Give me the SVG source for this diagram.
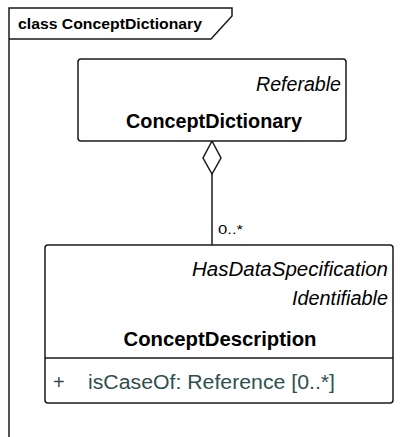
<svg xmlns="http://www.w3.org/2000/svg" width="420" height="437" viewBox="0 0 420 437">
<style>
text{font-family:"Liberation Sans",Arial,sans-serif;fill:#000}
.b{font-weight:bold}
.i{font-style:italic}
.box{fill:#fff;stroke:#1a1a1a;stroke-width:1.5}
.ln{fill:none;stroke:#1a1a1a;stroke-width:1.5}
.attr{fill:#2f4f4f}
</style>
<rect width="420" height="437" fill="#fff"/>
<g id="frame">
<path class="ln" d="M9,437 V8 H232 V16 L211,39 H9"/>
<text class="b" x="18" y="29" font-size="15" textLength="184" lengthAdjust="spacingAndGlyphs">class ConceptDictionary</text>
</g>
<g id="connectors">
<line class="ln" x1="212" y1="174" x2="212" y2="245"/>
<path class="ln" d="M212,141 L221,158 L212,174 L203,158 Z" fill="#fff"/>
<text x="218" y="234" font-size="13" textLength="25" lengthAdjust="spacingAndGlyphs">0..*</text>
</g>
<g id="ConceptDictionary">
<rect class="box" x="78" y="59" width="268" height="82" rx="3"/>
<text class="i" x="341" y="91" font-size="20" text-anchor="end" textLength="85" lengthAdjust="spacingAndGlyphs">Referable</text>
<text class="b" x="214" y="128" font-size="20" text-anchor="middle" textLength="176" lengthAdjust="spacingAndGlyphs">ConceptDictionary</text>
</g>
<g id="ConceptDescription">
<rect class="box" x="45" y="245" width="348" height="158" rx="3"/>
<line class="ln" x1="45" y1="358" x2="393" y2="358"/>
<text class="i" x="388" y="276" font-size="20" text-anchor="end" textLength="196" lengthAdjust="spacingAndGlyphs">HasDataSpecification</text>
<text class="i" x="388" y="305" font-size="20" text-anchor="end" textLength="96" lengthAdjust="spacingAndGlyphs">Identifiable</text>
<text class="b" x="220" y="346" font-size="20" text-anchor="middle" textLength="193" lengthAdjust="spacingAndGlyphs">ConceptDescription</text>
<text class="attr" x="53" y="389" font-size="20">+</text>
<text class="attr" x="88" y="389" font-size="20" textLength="247" lengthAdjust="spacingAndGlyphs">isCaseOf: Reference [0..*]</text>
</g>
</svg>
